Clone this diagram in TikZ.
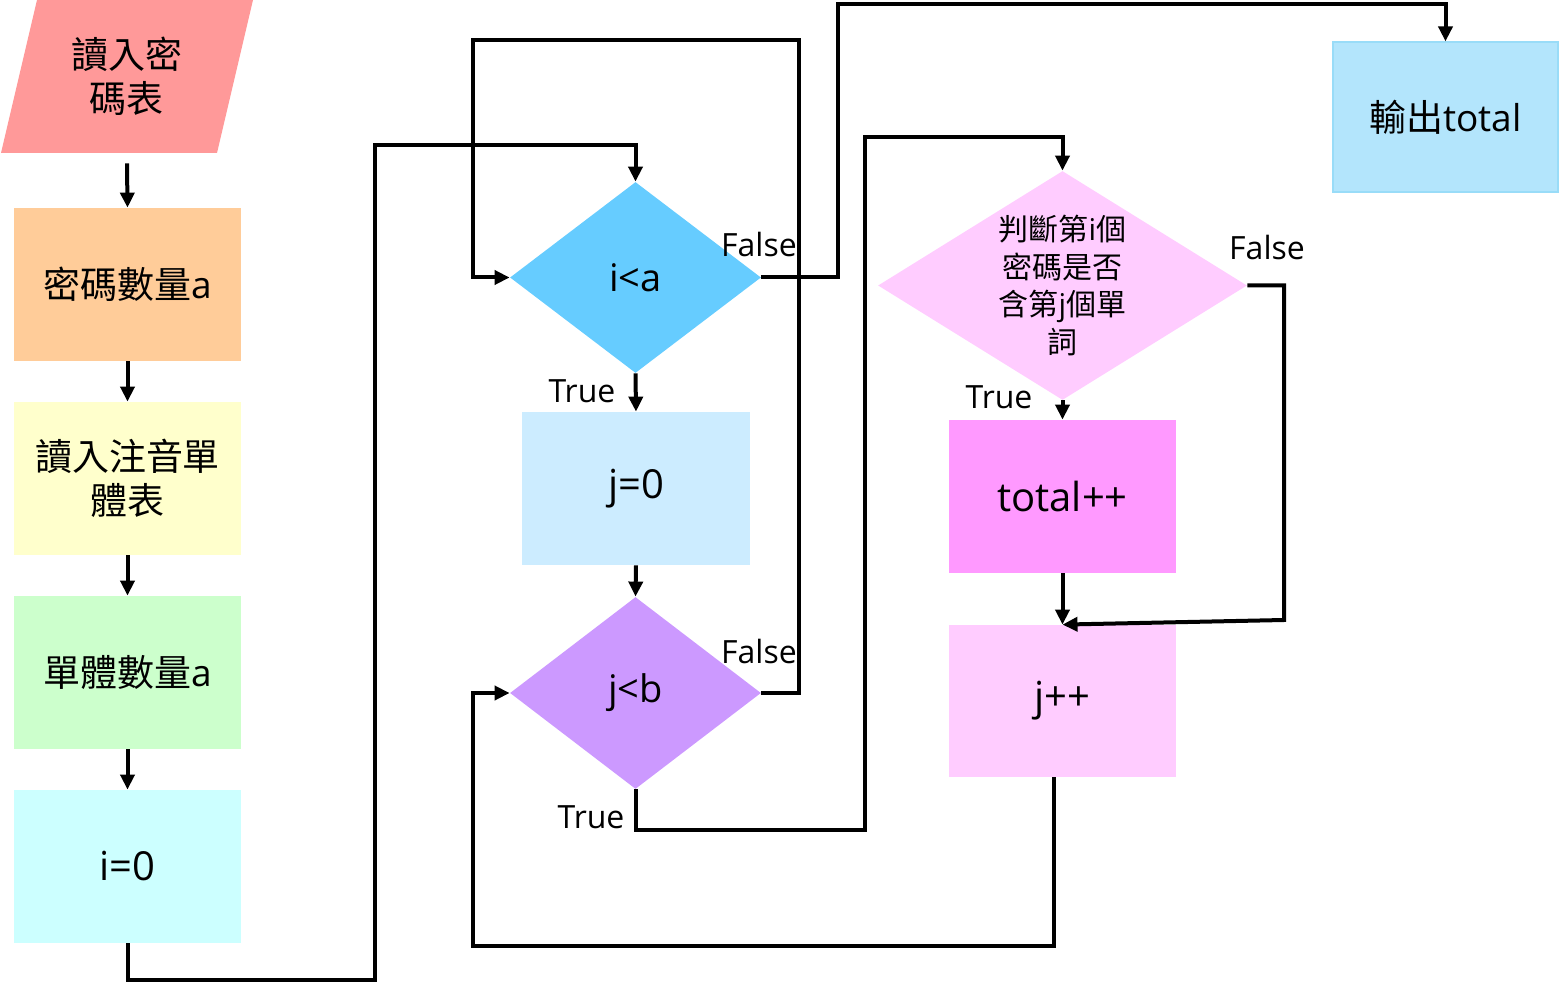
\documentclass[tikz,border=0pt]{standalone}
\usepackage{fontspec}
\setmainfont{Open Sans}
\newfontfamily\cjk{Noto Sans CJK TC}
\usetikzlibrary{arrows.meta,shapes.geometric}
\definecolor{cPar}{HTML}{FF9999}
\definecolor{cB1}{HTML}{FFCC99}
\definecolor{cB2}{HTML}{FFFFCC}
\definecolor{cB3}{HTML}{CCFFCC}
\definecolor{cB4}{HTML}{CCFFFF}
\definecolor{cD1}{HTML}{66CCFF}
\definecolor{cJ0}{HTML}{CCECFF}
\definecolor{cD2}{HTML}{CC99FF}
\definecolor{cD3}{HTML}{FFCCFF}
\definecolor{cTP}{HTML}{FF99FF}
\definecolor{cJP}{HTML}{FFCCFF}
\definecolor{cOut}{HTML}{B3E5FC}
\definecolor{cOutB}{HTML}{99DCF8}
\begin{document}
\begin{tikzpicture}[x=0.5pt,y=-0.5pt,
  box/.style={rectangle,inner sep=0pt,minimum width=113.5pt,minimum height=76.5pt,align=center,font=\fontsize{18.5}{22}\selectfont},
  dia/.style={diamond,inner sep=0pt,minimum width=125.5pt,minimum height=95.5pt},
  dtext/.style={align=center,inner sep=0pt,font=\fontsize{19}{22}\selectfont},
  arr/.style={line width=2pt,-{Triangle[width=7pt,length=7.5pt]}},
  lab/.style={font=\fontsize{16}{18}\selectfont,inner sep=0pt}
]
\useasboundingbox (0,0) rectangle (1560,984);
% parallelogram
\fill[cPar] (37,0) -- (253,0) -- (217,153) -- (1,153) -- cycle;
\node[box] (p0) at (127,76.5) {{\cjk 讀入密}\\{\cjk 碼表}};
% left column
\node[box,fill=cB1] (b1) at (127.5,284.5) {{\cjk 密碼數量}a};
\node[box,fill=cB2] (b2) at (127.5,478.5) {{\cjk 讀入注音單}\\{\cjk 體表}};
\node[box,fill=cB3] (b3) at (127.5,672.5) {{\cjk 單體數量}a};
\node[box,fill=cB4,font=\fontsize{20}{22}\selectfont] (b4) at (127.5,866.5) {i=0};
% middle column
\node[dia,fill=cD1] (d1) at (635.5,277.5) {};
\node[dtext] at (d1) {i<a};
\node[box,fill=cJ0,minimum width=114pt,font=\fontsize{20}{22}\selectfont] (j0) at (636,488.5) {j=0};
\node[dia,fill=cD2,minimum height=96pt] (d2) at (635.5,693) {};
\node[dtext] at (d2) {j<b};
% right column
\node[dia,fill=cD3,minimum width=184.5pt,minimum height=114.5pt] (d3) at (1062.5,285.5) {};
\node[align=center,inner sep=0pt,font=\fontsize{15}{18.9}\selectfont] at (d3) {{\cjk 判斷第}i{\cjk 個}\\{\cjk 密碼是否}\\{\cjk 含第}j{\cjk 個單}\\{\cjk 詞}};
\node[box,fill=cTP,font=\fontsize{20}{22}\selectfont] (tp) at (1062.5,496.5) {total++};
\node[box,fill=cJP,minimum height=76pt,font=\fontsize{20}{22}\selectfont] (jp) at (1062.5,701) {j++};
\node[box,fill=cOut,draw=cOutB,line width=0.6pt,minimum width=112.5pt,minimum height=75pt] (out) at (1445.5,117) {{\cjk 輸出}total};
% left column arrows
\draw[arr] ([yshift=-5pt]p0.south) -- (b1.north);
\draw[arr] (b1.south) -- (b2.north);
\draw[arr] (b2.south) -- (b3.north);
\draw[arr] (b3.south) -- (b4.north);
% i=0 -> i<a
\draw[arr] (b4.south) -- (127.5,980) -- (375,980) -- (375,145) -- (635.5,145) -- (d1.north);
% i<a True
\draw[arr] (d1.south) -- (j0.north);
\node[lab] at (582,391) {True};
% j=0 -> j<b
\draw[arr] (j0.south) -- (d2.north);
% j<b False -> i<a
\draw[arr] (d2.east) -- (799,693) -- (799,40) -- (473,40) -- (473,277.5) -- (d1.west);
\node[lab] at (759,651) {False};
% i<a False -> output
\draw[arr] (d1.east) -- (838,277.5) -- (838,4) -- (1445.5,4) -- (out.north);
\node[lab] at (759,245) {False};
% j<b True -> judge
\draw[arr] (d2.south) -- (635.5,830) -- (865,830) -- (865,137) -- (1062.5,137) -- (d3.north);
\node[lab] at (591,817) {True};
% judge True
\draw[arr] (d3.south) -- (tp.north);
\node[lab] at (999,397) {True};
% judge False
\draw[arr] (d3.east) -- (1284,285.5) -- (1284,620) -- (jp.north);
\node[lab] at (1267,248) {False};
% total++ -> j++
\draw[arr] (tp.south) -- (jp.north);
% j++ -> j<b
\draw[arr] ([xshift=-4.25pt]jp.south) -- (1054,946) -- (473,946) -- (473,693) -- (d2.west);
\end{tikzpicture}
\end{document}
